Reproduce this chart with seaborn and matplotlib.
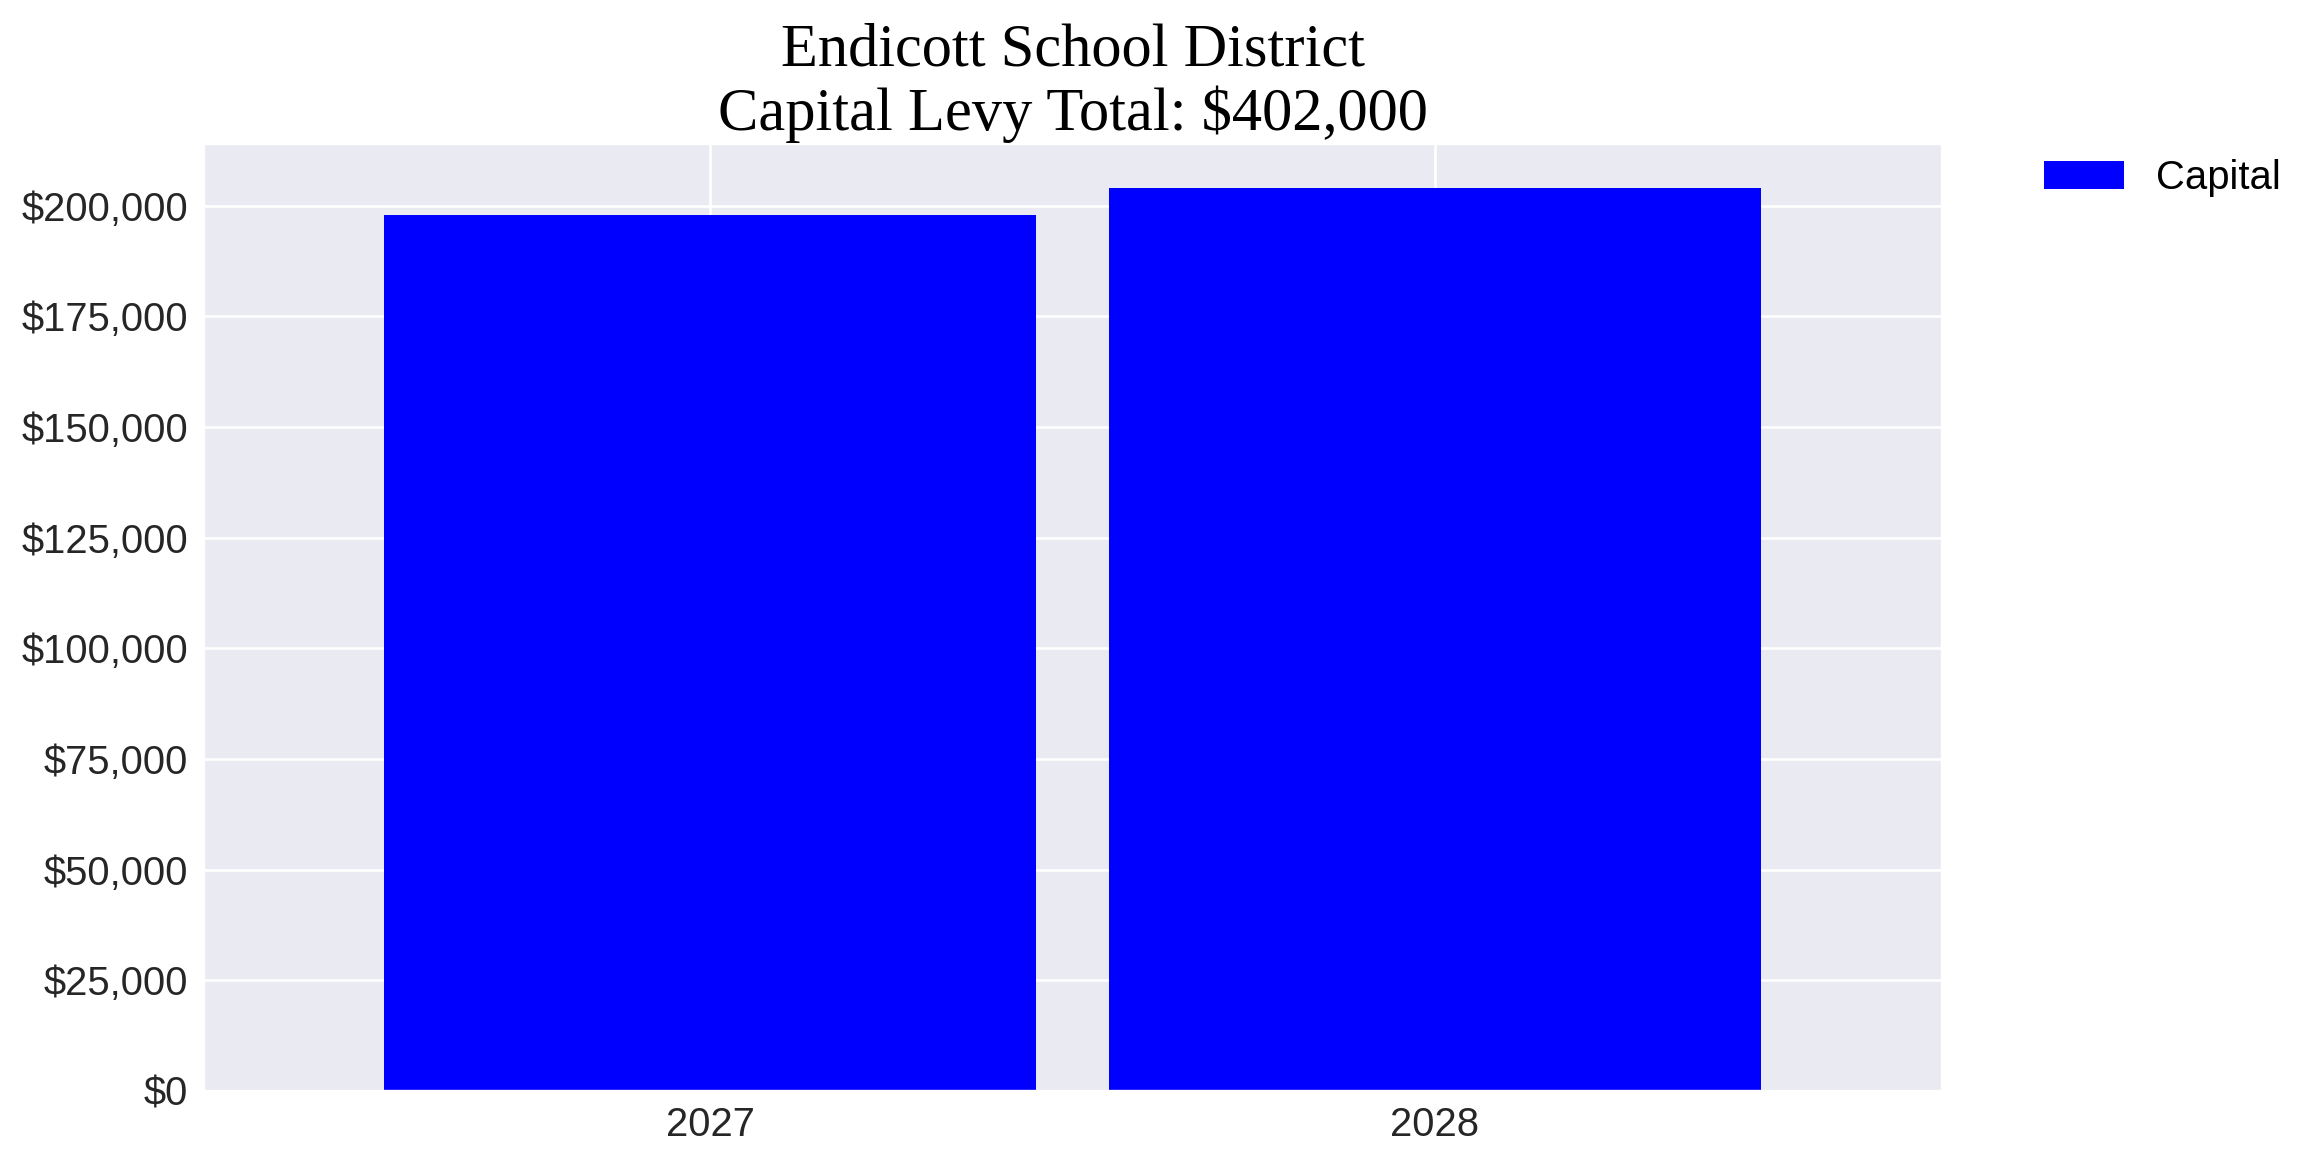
import matplotlib
matplotlib.use("Agg")
import matplotlib.pyplot as plt
import matplotlib.ticker as mticker
import seaborn as sns
import pandas as pd

years = ["2027", "2028"]
capital = [198000, 204000]
series_name = "Capital"
district = "Endicott School District"
total = sum(capital)

sns.set_theme(style="darkgrid")
plt.rcParams["font.family"] = ["Liberation Sans", "DejaVu Sans"]

df = pd.DataFrame({"year": years, "amount": capital})

fig, ax = plt.subplots(figsize=(12, 6), dpi=192)
fig.subplots_adjust(left=0.088, right=0.843, top=0.876, bottom=0.053)

sns.barplot(data=df, x="year", y="amount", color="#0000ff", saturation=1,
            width=0.9, label=series_name, linewidth=0, edgecolor="none", ax=ax)
ax.set_xlim(-0.7, 1.7)
ax.set_ylim(0, max(capital) * 1.05)
ax.yaxis.set_major_locator(mticker.MultipleLocator(25000))
ax.yaxis.set_major_formatter(mticker.FuncFormatter(lambda v, p: f"${v:,.0f}"))
ax.grid(True, axis="both", color="white", linewidth=1.0)
ax.set_axisbelow(True)
ax.set_xlabel("")
ax.set_ylabel("")
ax.tick_params(axis="both", labelsize=15, colors="#262626", length=0, pad=5.5)

ax.set_title(f"{district}\nCapital Levy Total: ${total:,.0f}",
             fontsize=22.7, family=["Liberation Serif", "DejaVu Serif"],
             color="black", linespacing=1.15, pad=5)

leg = ax.legend(loc="upper left", bbox_to_anchor=(1.049, 1.0), frameon=False,
                fontsize=15, borderaxespad=0)
for t in leg.get_texts():
    t.set_color("black")

fig.savefig("out.png", dpi=192)
